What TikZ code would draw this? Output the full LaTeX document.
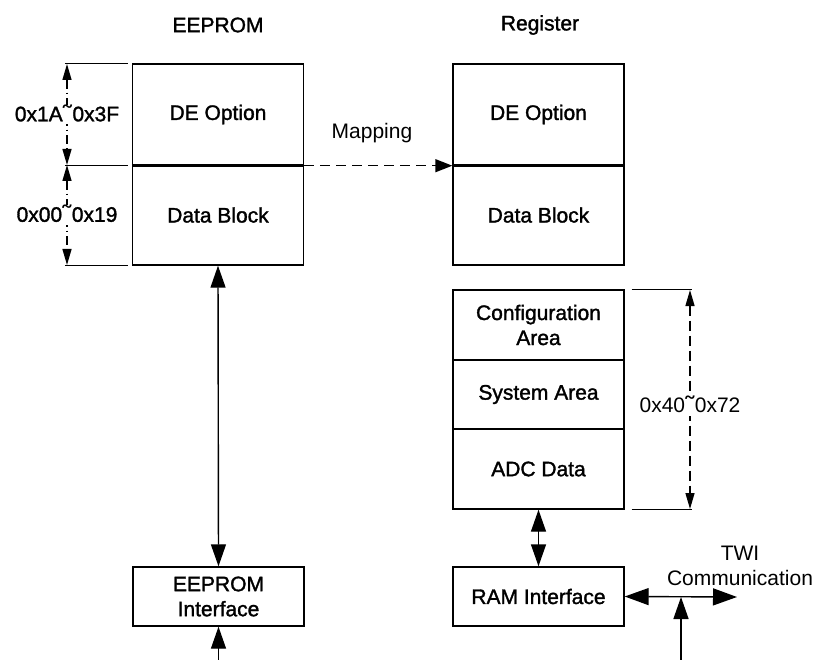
\documentclass[tikz,border=0pt]{standalone}
\usepackage{fontspec}
\setmainfont{Liberation Sans}
\newfontfamily\heavy[FakeBold=1.5]{Liberation Sans}
\newfontfamily\tldfont{DejaVu Sans}
\newcommand\tld{\kern-2.5pt\raisebox{-3pt}{\scalebox{1.4}[1.2]{\tldfont\char"02DC}}\kern-2.5pt}
\usetikzlibrary{arrows.meta}
\begin{document}
\begin{tikzpicture}[x=1pt,y=-1pt,line width=1.4pt,
    blk/.style={draw,minimum width=171pt,inner sep=0pt,align=center,font=\heavy\fontsize{21}{25}\selectfont},
    lbl/.style={font=\fontsize{21}{25}\selectfont},
    ttl/.style={font=\heavy\fontsize{21}{25}\selectfont},
    bigtip/.style={arrows={-Triangle[length=22pt,width=15pt]}},
    dimtip/.style={arrows={Triangle[length=16pt,width=9pt]-Triangle[length=16pt,width=9pt]}}]
\useasboundingbox (0,0) rectangle (819,660);
% EEPROM side
\node[ttl] (eTitle) at (218,25) {EEPROM};
\node[blk,minimum height=101pt] (eDE) at (218,114.5) {DE Option};
\node[blk,minimum height=100pt] (eDB) at (218,215) {Data Block};
\draw[line width=3pt] (eDE.south west) -- (eDE.south east);
\draw ([xshift=-67pt]eDE.north west) -- ([xshift=-4pt]eDE.north west);
\draw ([xshift=-67pt]eDE.south west) -- ([xshift=-4pt]eDE.south west);
\draw ([xshift=-67pt]eDB.south west) -- ([xshift=-4pt]eDB.south west);
\coordinate (dTop) at (67,64);
\coordinate (dMid) at (67,165);
\coordinate (dBot) at (67,265);
\draw[dimtip,dash pattern=on 9pt off 4pt on 1.5pt off 4pt] (dTop) -- (dMid) node[midway,ttl,fill=white,inner sep=0pt] {0x1A\tld0x3F};
\draw[dimtip,dash pattern=on 9pt off 4pt on 1.5pt off 4pt] (dMid) -- (dBot) node[midway,ttl,fill=white,inner sep=0pt] {0x00\tld0x19};
% register side
\node[ttl] (rTitle) at (540,25) {Register};
\node[blk,minimum height=101pt] (rDE) at (538.5,114.5) {DE Option};
\node[blk,minimum height=100pt] (rDB) at (538.5,215) {Data Block};
\draw[line width=3pt] (rDE.south west) -- (rDE.south east);
\draw[dashed,dash pattern=on 10pt off 6pt,arrows={-Triangle[length=17pt,width=13pt]}] (eDE.south east) -- (rDE.south west);
\node[lbl] (map) at (372,133) {Mapping};
\node[blk,minimum height=70pt] (cfg) at (538.5,325) {Configuration\\Area};
\node[blk,minimum height=69pt] (sys) at (538.5,394.5) {System Area};
\node[blk,minimum height=80pt] (adc) at (538.5,469) {ADC Data};
\draw ([xshift=7pt]cfg.north east) -- ++(60,0);
\draw ([xshift=7pt]adc.south east) -- ++(60,0);
\coordinate (rTop) at (690,290);
\coordinate (rBot) at (690,509);
\draw[dimtip,dash pattern=on 10pt off 5pt] (rTop) -- (rBot) node[pos=0.53,lbl,fill=white,inner sep=0pt] {0x40\tld0x72};
% interfaces
\node[blk,minimum height=59pt] (eIf) at (218.5,596.5) {EEPROM\\Interface};
\node[blk,minimum height=59pt] (ram) at (538.5,596.5) {RAM Interface};
\coordinate (eIn) at (218.5,660);
\draw[arrows={Triangle[length=22pt,width=15pt]-Triangle[length=22pt,width=15pt]}] (eDB.south) -- (eIf.north);
\draw[bigtip] (eIn) -- (eIf.south);
\draw[arrows={Triangle[length=22pt,width=15pt]-Triangle[length=22pt,width=15pt]}] (adc.south) -- (ram.north);
\coordinate (twiEnd) at (737,597);
\coordinate (twiJ) at (681,597);
\coordinate (twiIn) at (681,660);
\draw[arrows={Triangle[length=24pt,width=17pt]-Triangle[length=24pt,width=17pt]}] (ram.east) -- (twiEnd);
\draw[bigtip] (twiIn) -- (twiJ);
\node[lbl,align=center] (twi) at (740,565.5) {TWI\\Communication};
\end{tikzpicture}
\end{document}
